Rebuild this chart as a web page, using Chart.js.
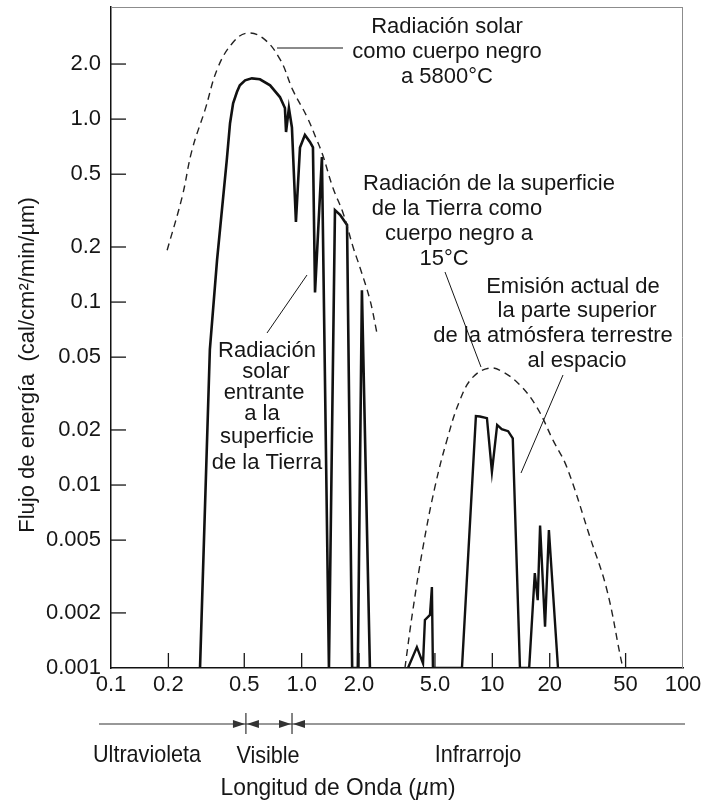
<!DOCTYPE html>
<html>
<head>
<meta charset="utf-8">
<script src="https://cdn.jsdelivr.net/npm/chart.js@4.4.1/dist/chart.umd.min.js"></script>
<style>
  html, body { margin: 0; padding: 0; background: #fff; }
  #wrap { width: 702px; height: 803px; }
</style>
</head>
<body>
<div id="wrap"><canvas id="spectrum" width="702" height="803"></canvas></div>
<script>
// wavelength in µm, flux in cal/cm²/min/µm

// black body at 5800°C
const solarBbWl   = [0.197, 0.236, 0.266, 0.311, 0.364, 0.437, 0.516, 0.627, 0.769, 0.899, 1.066, 1.20, 1.29, 1.46, 1.65, 1.86, 2.02, 2.28, 2.48];
const solarBbFlux = [0.192, 0.375, 0.677, 1.12, 1.92, 2.63, 2.95, 2.77, 2.13, 1.44, 1.03, 0.77, 0.636, 0.42, 0.306, 0.20, 0.155, 0.103, 0.068];

// sunlight reaching the ground
const solarSfcWl   = [0.293, 0.33, 0.36, 0.405, 0.421, 0.437, 0.458, 0.474, 0.505, 0.548, 0.604, 0.683, 0.769, 0.817, 0.828, 0.857, 0.889, 0.933, 0.98, 1.04, 1.105, 1.146, 1.175, 1.277, 1.39, 1.495, 1.59, 1.73, 1.84, 1.97, 2.07, 2.28];
const solarSfcFlux = [0.001, 0.055, 0.17, 0.6, 0.95, 1.22, 1.41, 1.53, 1.63, 1.67, 1.65, 1.53, 1.32, 1.15, 0.85, 1.15, 0.9, 0.274, 0.7, 0.82, 0.75, 0.7, 0.113, 0.62, 0.001, 0.318, 0.30, 0.264, 0.001, 0.001, 0.116, 0.001];

// black body at 15°C
const earthBbWl   = [3.48, 3.83, 4.33, 5.0, 5.78, 6.76, 7.91, 9.71, 11.4, 13.96, 17.1, 20.8, 24.6, 32.5, 39.9, 47.8, 49.0];
const earthBbFlux = [0.001, 0.00207, 0.00458, 0.00976, 0.0176, 0.0291, 0.0389, 0.0436, 0.0414, 0.0352, 0.0267, 0.0176, 0.0125, 0.0052, 0.00267, 0.00106, 0.001];

// outgoing emission at the top of the atmosphere
const toaWl   = [3.61, 4.02, 4.33, 4.43, 4.71, 4.82, 4.88, 6.93, 8.2, 8.61, 9.37, 9.95, 10.6, 11.2, 12.1, 12.8, 13.96, 15.6, 16.7, 17.3, 17.8, 18.9, 19.8, 22.1];
const toaFlux = [0.001, 0.0013, 0.00106, 0.00183, 0.00195, 0.00277, 0.001, 0.001, 0.0238, 0.0237, 0.0232, 0.0118, 0.0213, 0.0202, 0.0197, 0.018, 0.001, 0.001, 0.0033, 0.00235, 0.006, 0.00168, 0.00568, 0.001];

const xTicks      = [0.1, 0.2, 0.5, 1, 2, 5, 10, 20, 50, 100];
const xTickLabels = ['0.1', '0.2', '0.5', '1.0', '2.0', '5.0', '10', '20', '50', '100'];
const xMarks      = [0.2, 0.5, 1, 2, 5, 10, 20, 50];
const yTicks      = [0.001, 0.002, 0.005, 0.01, 0.02, 0.05, 0.1, 0.2, 0.5, 1, 2];
const yTickLabels = ['0.001', '0.002', '0.005', '0.01', '0.02', '0.05', '0.1', '0.2', '0.5', '1.0', '2.0'];
const bandEdges   = [0.51, 0.89];

const FONT = '"Liberation Sans", Arial, Helvetica, sans-serif';
const INK = '#161616';

const pts = (xs, ys) => xs.map((v, i) => ({ x: v, y: ys[i] }));

function line(ctx, x1, y1, x2, y2) {
  ctx.beginPath(); ctx.moveTo(x1, y1); ctx.lineTo(x2, y2); ctx.stroke();
}

function arrowHead(ctx, tipX, y, dir) {
  ctx.beginPath();
  ctx.moveTo(tipX, y);
  ctx.lineTo(tipX - dir * 12, y - 4);
  ctx.lineTo(tipX - dir * 12, y + 4);
  ctx.closePath();
  ctx.fill();
}

function narrow(ctx, str, cx, by, size, sx) {
  ctx.save();
  ctx.translate(cx, by);
  ctx.scale(sx, 1);
  ctx.font = size + 'px ' + FONT;
  ctx.textAlign = 'center';
  ctx.fillText(str, 0, 0);
  ctx.restore();
}

// callouts: [text, centre x, baseline]
const callouts = [
  ['Radiación solar', 447, 33], ['como cuerpo negro', 447, 58], ['a 5800°C', 447, 83],
  ['Radiación de la superficie', 489, 190], ['de la Tierra como', 457, 215], ['cuerpo negro a', 459, 240], ['15°C', 444, 265],
  ['Emisión actual de', 573, 293], ['la parte superior', 577, 317], ['de la atmósfera terrestre', 553, 342], ['al espacio', 577, 367],
  ['Radiación', 267, 357], ['solar', 266, 378], ['entrante', 264, 399], ['a la', 262, 420], ['superficie', 267, 443], ['de la Tierra', 267, 469]
];
const leaders = [[277, 48, 343, 48], [445, 272, 481, 367], [563, 375, 521, 473], [267, 333, 307, 275]];

const decorations = {
  id: 'decorations',
  afterDraw(chart) {
    const { ctx, chartArea: a, scales: { x, y } } = chart;
    ctx.save();

    // faint top and right edges of the frame
    ctx.strokeStyle = '#8c8c8c';
    ctx.lineWidth = 1;
    line(ctx, a.left, a.top + 0.5, a.right, a.top + 0.5);
    line(ctx, a.right - 0.5, a.top, a.right - 0.5, a.bottom);

    // ticks point into the plot
    ctx.strokeStyle = INK;
    ctx.lineWidth = 1.3;
    xMarks.forEach(v => { const px = x.getPixelForValue(v); line(ctx, px, a.bottom, px, a.bottom - 15); });
    yTicks.slice(1).forEach(v => { const py = y.getPixelForValue(v); line(ctx, a.left, py, a.left + 15, py); });

    // leader lines and callout text
    ctx.lineWidth = 1;
    leaders.forEach(l => line(ctx, l[0], l[1], l[2], l[3]));
    ctx.fillStyle = INK;
    ctx.font = '22px ' + FONT;
    ctx.textAlign = 'center';
    ctx.textBaseline = 'alphabetic';
    callouts.forEach(c => ctx.fillText(c[0], c[1], c[2]));

    // y axis title
    ctx.save();
    ctx.translate(34, 365);
    ctx.rotate(-Math.PI / 2);
    ctx.font = '22px ' + FONT;
    ctx.fillText('Flujo de energía  (cal/cm²/min/µm)', 0, 0);
    ctx.restore();

    // spectral bands under the axis
    ctx.strokeStyle = '#333';
    ctx.fillStyle = '#333';
    ctx.lineWidth = 1.2;
    line(ctx, 99, 724, 685, 724);
    bandEdges.forEach(v => {
      const px = x.getPixelForValue(v);
      line(ctx, px, 713, px, 734);
      arrowHead(ctx, px - 1, 724, 1);
      arrowHead(ctx, px + 1, 724, -1);
    });

    ctx.fillStyle = INK;
    narrow(ctx, 'Ultravioleta', 147, 762, 24, 0.9);
    narrow(ctx, 'Visible', 268, 763, 24, 0.9);
    narrow(ctx, 'Infrarrojo', 478, 762, 24, 0.9);

    // axis title with italic mu
    const size = 24, sx = 0.95, base = 795, cx = 338;
    const parts = [['Longitud de Onda (', ''], ['µ', 'italic '], ['m)', '']];
    let total = 0;
    parts.forEach(p => { ctx.font = p[1] + size + 'px ' + FONT; total += ctx.measureText(p[0]).width; });
    ctx.save();
    ctx.translate(cx, base);
    ctx.scale(sx, 1);
    ctx.textAlign = 'left';
    let pos = -total / 2;
    parts.forEach(p => {
      ctx.font = p[1] + size + 'px ' + FONT;
      ctx.fillText(p[0], pos, 0);
      pos += ctx.measureText(p[0]).width;
    });
    ctx.restore();

    ctx.restore();
  }
};

const solid = { showLine: true, pointRadius: 0, borderColor: '#111', borderWidth: 2.6, tension: 0, fill: false };
const dashed = { showLine: true, pointRadius: 0, borderColor: '#222', borderWidth: 1.4, borderDash: [7, 5], tension: 0.4, fill: false };

// keep the plot box fixed: no extra room reserved for overhanging labels
const noPad = s => { s.paddingTop = 0; s.paddingBottom = 0; s.paddingLeft = 0; s.paddingRight = 0; };

new Chart(document.getElementById('spectrum'), {
  type: 'scatter',
  data: {
    datasets: [
      Object.assign({ label: 'Cuerpo negro 5800°C', data: pts(solarBbWl, solarBbFlux) }, dashed),
      Object.assign({ label: 'Radiación solar entrante', data: pts(solarSfcWl, solarSfcFlux) }, solid),
      Object.assign({ label: 'Cuerpo negro 15°C', data: pts(earthBbWl, earthBbFlux) }, dashed),
      Object.assign({ label: 'Emisión al espacio', data: pts(toaWl, toaFlux) }, solid, { borderWidth: 2.4 })
    ]
  },
  options: {
    responsive: false,
    animation: false,
    layout: { padding: { top: 7, right: 19, left: 0, bottom: 0 } },
    plugins: { legend: { display: false }, tooltip: { enabled: false } },
    scales: {
      x: {
        type: 'logarithmic',
        position: 'bottom',
        min: 0.1,
        max: 100,
        grid: { display: false, drawTicks: false },
        border: { color: '#111', width: 1.5 },
        ticks: {
          autoSkip: false, maxRotation: 0, padding: 4, color: INK,
          font: { family: FONT, size: 22 },
          callback: (v, i) => xTickLabels[i]
        },
        afterBuildTicks: s => { s.ticks = xTicks.map(v => ({ value: v })); },
        afterFit: s => { s.height = 135; noPad(s); }
      },
      y: {
        type: 'logarithmic',
        position: 'left',
        min: 0.001,
        max: 4.1,
        grid: { display: false, drawTicks: false },
        border: { color: '#111', width: 1.5 },
        ticks: {
          autoSkip: false, padding: 10, color: INK,
          font: { family: FONT, size: 22 },
          callback: (v, i) => yTickLabels[i]
        },
        afterBuildTicks: s => { s.ticks = yTicks.map(v => ({ value: v })); },
        afterFit: s => { s.width = 111; noPad(s); }
      }
    }
  },
  plugins: [decorations]
});
</script>
</body>
</html>
